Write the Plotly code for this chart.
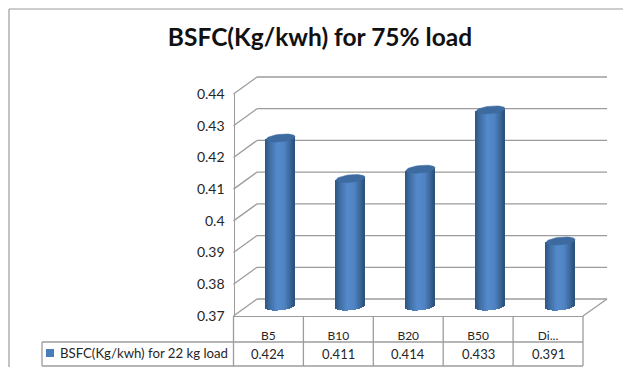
import math
import plotly.graph_objects as go

categories = ["B5", "B10", "B20", "B50", "Di..."]
values = [0.424, 0.411, 0.414, 0.433, 0.391]
series_name = "BSFC(Kg/kwh) for 22 kg load"
title = "BSFC(Kg/kwh) for 75% load"
y_ticks = [0.37, 0.38, 0.39, 0.40, 0.41, 0.42, 0.43, 0.44]
y_labels = ["0.37", "0.38", "0.39", "0.4", "0.41", "0.42", "0.43", "0.44"]

W, H = 623, 367
FONT = "Lato"
GRID = "#9c9c9c"
TEXT = "#262626"

def px(x): return x / W
def py(y): return 1 - y / H

# pixel frame of the pseudo-3D chart
FX0, FX1, FY0, FY1 = 233.5, 583, 316, 94     # front plane
BX0, BX1, BY0, BY1 = 257, 607, 299, 77       # back wall
BAR_C0, BAR_STEP = 280.5, 70
BAR_BASE, BAR_SCALE = 306.5, 3120            # px of 0.37, px per unit
R_X, R_Y, TILT = 14.5 / 70, 3.8 / 3120, 1.4 / 3120

fig = go.Figure()

# invisible trace that binds the front axes
fig.add_trace(go.Scatter(x=categories, y=[0.37] * 5, mode="markers", marker_opacity=0,
                         xaxis="x2", yaxis="y", showlegend=False, hoverinfo="skip"))

# gradient cylinders made of narrow bars, one trace per strip
N = 29
def shade(t):
    stops = [(-1, (44, 84, 128)), (-0.7, (62, 108, 160)), (-0.15, (84, 138, 204)),
             (0.35, (80, 131, 194)), (0.75, (58, 102, 152)), (1, (42, 80, 122))]
    for (a, c0), (b, c1) in zip(stops, stops[1:]):
        if a <= t <= b:
            f = (t - a) / (b - a)
            return "rgb(%d,%d,%d)" % tuple(round(u + (v - u) * f) for u, v in zip(c0, c1))
    return "rgb(44,84,128)"

for k in range(N):
    t = -1 + (2 * k + 1) / N
    base_v = 0.37 - R_Y * math.sqrt(max(0, 1 - t * t)) + TILT * t
    tops = [v + TILT * t for v in values]
    fig.add_trace(go.Bar(
        x=[i + t * R_X for i in range(len(values))],
        y=[top - base_v for top in tops], base=[base_v] * len(values),
        width=2 * R_X / N * 1.15, marker=dict(color=shade(t), line_width=0),
        xaxis="x", yaxis="y2", showlegend=False, hoverinfo="skip"))

# top caps
for i, v in enumerate(values):
    ts = [j * 2 * math.pi / 40 for j in range(41)]
    fig.add_trace(go.Scatter(
        x=[i + R_X * math.cos(a) for a in ts],
        y=[v + R_Y * math.sin(a) + TILT * math.cos(a) for a in ts],
        mode="lines", fill="toself", fillcolor="#3d6b9f", line=dict(color="#3d6b9f", width=0.5),
        xaxis="x", yaxis="y2", showlegend=False, hoverinfo="skip"))

shapes = []
def line(x0, y0, x1, y1, width=1.3, color=GRID):
    shapes.append(dict(type="line", xref="paper", yref="paper", x0=px(x0), y0=py(y0),
                       x1=px(x1), y1=py(y1), line=dict(color=color, width=width), layer="below"))

# chart frame
line(9, 9, W, 9, 1.2)
line(9, 9, 9, H, 1.2)
# back-wall gridlines and side-wall diagonals
for tv in y_ticks:
    f = (tv - 0.37) / 0.07
    line(BX0, BY0 + (BY1 - BY0) * f, BX1, BY0 + (BY1 - BY0) * f)
    line(FX0, FY0 + (FY1 - FY0) * f, BX0, BY0 + (BY1 - BY0) * f)
line(FX1, FY0, BX1, BY0)
# data table
cell = (FX1 - FX0) / len(categories)
for i in range(len(categories) + 1):
    line(FX0 + i * cell, FY0, FX0 + i * cell, 366)
line(42, 342, FX1, 342)
line(42, 366, FX1, 366)
line(42, 342, 42, 366)
shapes.append(dict(type="rect", xref="paper", yref="paper", x0=px(46), x1=px(54),
                   y0=py(357), y1=py(349), fillcolor="#4a7ebb", line_width=0))

annotations = [
    dict(text=series_name, xref="paper", yref="paper", x=px(58), y=py(352.5), xanchor="left",
         yanchor="middle", showarrow=False, font=dict(family=FONT, size=13.2, color=TEXT)),
]
for c, v in zip(categories, values):
    annotations.append(dict(text="%.3f" % v, x=c, xref="x2", yref="paper", y=py(353.5),
                            xanchor="center", yanchor="middle", showarrow=False,
                            font=dict(family=FONT, size=13, color=TEXT)))

fig.update_layout(
    width=W, height=H, margin=dict(l=0, r=0, t=0, b=0, autoexpand=False),
    paper_bgcolor="white", plot_bgcolor="rgba(0,0,0,0)", barmode="overlay", bargap=0,
    title=dict(text="<b>%s</b>" % title, x=320 / W, xanchor="center", y=py(37), yanchor="middle",
               font=dict(family=FONT, size=24.5, color="#111111")),
    xaxis=dict(domain=[0, 1], range=[-BAR_C0 / BAR_STEP, (W - BAR_C0) / BAR_STEP], visible=False),
    yaxis2=dict(domain=[0, 1], anchor="x",
                range=[0.37 - (H - BAR_BASE) / BAR_SCALE, 0.37 + BAR_BASE / BAR_SCALE], visible=False),
    # front axis with the tick labels
    yaxis=dict(domain=[py(FY0), py(FY1)], range=[0.37, 0.44], tickvals=y_ticks, ticktext=y_labels,
               anchor="free", position=px(FX0), showline=True, linecolor=GRID, linewidth=1.3,
               showgrid=False, zeroline=False, ticks="outside", ticklen=6, tickcolor="rgba(0,0,0,0)",
               tickfont=dict(family=FONT, size=14, color=TEXT)),
    xaxis2=dict(domain=[px(FX0), px(FX1)], type="category", categoryarray=categories,
                categoryorder="array", range=[-0.5, 4.5], anchor="y", showline=True,
                linecolor=GRID, linewidth=1.3, showgrid=False, zeroline=False, ticks="outside",
                ticklen=8, tickcolor="rgba(0,0,0,0)", tickfont=dict(family=FONT, size=12, color=TEXT)),
    shapes=shapes, annotations=annotations, showlegend=False,
)
fig.write_html("out.html", config=dict(displayModeBar=False),
               post_script="document.body.style.margin='0';document.documentElement.style.overflow='hidden';")
